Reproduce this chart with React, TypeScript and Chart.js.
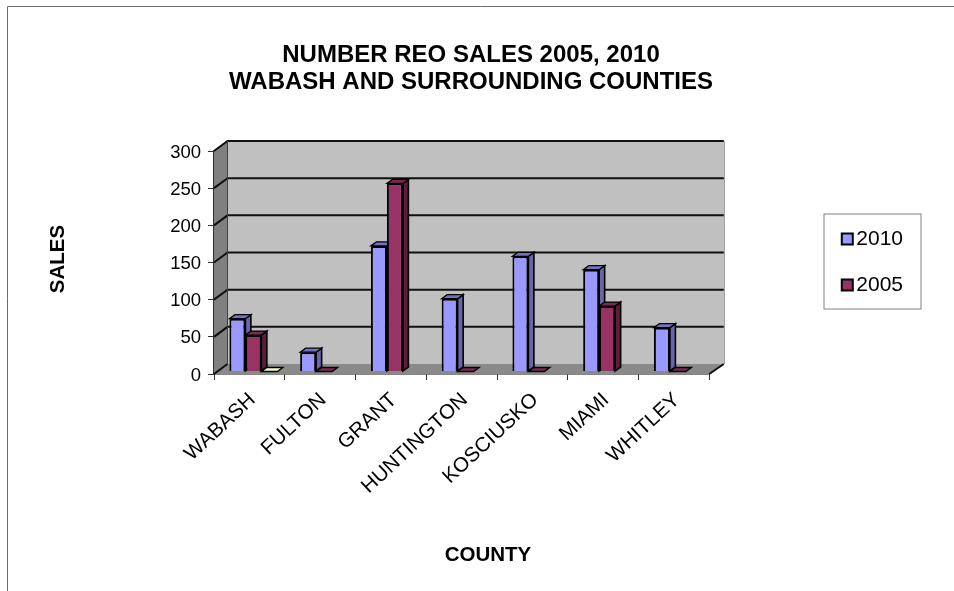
import React, { useEffect, useRef } from "react";
import { Chart, registerables } from "chart.js";

Chart.register(...registerables);

const categories = ["WABASH", "FULTON", "GRANT", "HUNTINGTON", "KOSCIUSKO", "MIAMI", "WHITLEY"];
const sales2010 = [71, 26, 169, 98, 155, 137, 59];
const sales2005 = [49, 0, 253, 0, 0, 88, 0];
const salesOther = [0, null, null, null, null, null, null];
const yTicks = [0, 50, 100, 150, 200, 250, 300];
const titleLines = ["NUMBER REO SALES 2005, 2010", "WABASH AND SURROUNDING COUNTIES"];
const xTitle = "COUNTY";
const yTitle = "SALES";

const FONT = "'Liberation Sans', Arial, sans-serif";
const faces = [
  { side: "#6666a8", top: "#7272bd" },
  { side: "#5a1e3c", top: "#7a2a52" },
  { side: "#c9c9a0", top: "#ffffcc" },
];

const BAR_DX = 4;
const BAR_DY = -2.5;
const DEPTH_X = 5.5;
const DEPTH_Y = -4;

function poly(ctx: CanvasRenderingContext2D, pts: number[][], fill: string, stroke?: string, lw = 1) {
  ctx.beginPath();
  pts.forEach((p, i) => (i ? ctx.lineTo(p[0], p[1]) : ctx.moveTo(p[0], p[1])));
  ctx.closePath();
  ctx.fillStyle = fill;
  ctx.fill();
  if (stroke) {
    ctx.strokeStyle = stroke;
    ctx.lineWidth = lw;
    ctx.stroke();
  }
}

const scene3d = {
  id: "scene3d",
  beforeDatasetsDraw(chart: any) {
    const ctx: CanvasRenderingContext2D = chart.ctx;
    const { left, right } = chart.chartArea;
    const y = chart.scales.y;
    const y0 = y.getPixelForValue(0);
    const yTop = y.getPixelForValue(300);
    const dl = 13.5, dr = 14.5, dy = -10;
    ctx.save();
    poly(ctx, [[left + dl, yTop + dy], [right + dr, yTop + dy], [right + dr, y0 + dy], [left + dl, y0 + dy]], "#c0c0c0");
    poly(ctx, [[left, yTop], [left + dl, yTop + dy], [left + dl, y0 + dy], [left, y0]], "#808080");
    poly(ctx, [[left, y0], [left + dl, y0 + dy], [right + dr, y0 + dy], [right, y0]], "#8a8a8a");
    ctx.strokeStyle = "#8c8c8c";
    ctx.lineWidth = 1;
    ctx.beginPath();
    ctx.moveTo(right + dr + 0.5, yTop + dy);
    ctx.lineTo(right + dr + 0.5, y0 + dy);
    ctx.stroke();
    ctx.strokeStyle = "#101010";
    ctx.lineWidth = 2;
    yTicks.forEach((v) => {
      const p = y.getPixelForValue(v);
      ctx.beginPath();
      ctx.moveTo(left, p);
      ctx.lineTo(left + dl, p + dy);
      if (v > 0) ctx.lineTo(right + dr, p + dy);
      ctx.stroke();
    });
    ctx.beginPath();
    ctx.moveTo(right, y0);
    ctx.lineTo(right + dr, y0 + dy);
    ctx.stroke();
    ctx.lineWidth = 1;
    ctx.strokeStyle = "#404040";
    ctx.beginPath();
    ctx.moveTo(left + dl, yTop + dy);
    ctx.lineTo(left + dl, y0 + dy);
    ctx.stroke();

    // bar sides and tops, in series order, under all bar fronts
    ctx.translate(BAR_DX, BAR_DY);
    chart.data.datasets.forEach((ds: any, di: number) => {
      const meta = chart.getDatasetMeta(di);
      meta.data.forEach((el: any, i: number) => {
        if (ds.data[i] === null) return;
        const x0 = el.x - el.width / 2;
        const x1 = el.x + el.width / 2;
        const t = el.y;
        const b = el.base;
        if (b - t > 0.5) {
          poly(ctx, [[x1, t], [x1 + DEPTH_X, t + DEPTH_Y], [x1 + DEPTH_X, b + DEPTH_Y], [x1, b]], faces[di].side, "#000", 1.6);
        }
        poly(ctx, [[x0, t], [x0 + DEPTH_X, t + DEPTH_Y], [x1 + DEPTH_X, t + DEPTH_Y], [x1, t]], faces[di].top, "#000", 1.3);
      });
    });
    ctx.restore();
  },
  beforeDatasetDraw(chart: any) {
    chart.ctx.save();
    chart.ctx.translate(BAR_DX, BAR_DY);
  },
  afterDatasetDraw(chart: any) {
    chart.ctx.restore();
  },
  afterDraw(chart: any) {
    const ctx: CanvasRenderingContext2D = chart.ctx;
    ctx.save();
    ctx.strokeStyle = "#6e6e6e";
    ctx.lineWidth = 1;
    ctx.beginPath();
    ctx.moveTo(7.5, 591);
    ctx.lineTo(7.5, 6.5);
    ctx.lineTo(954, 6.5);
    ctx.stroke();
    ctx.strokeStyle = "#808080";
    ctx.strokeRect(824, 214, 97, 95);
    // legend swatches sit closer to their text than the native box allows
    chart.legend.legendHitBoxes.forEach((hb: any, i: number) => {
      const sx = hb.left + 0.5;
      const sy = hb.top + hb.height / 2 - 6;
      ctx.fillStyle = chart.data.datasets[i].backgroundColor;
      ctx.strokeStyle = "#000";
      ctx.lineWidth = 2;
      ctx.fillRect(sx, sy, 11, 11);
      ctx.strokeRect(sx, sy, 11, 11);
    });
    ctx.fillStyle = "#000";
    ctx.font = `bold 20.5px ${FONT}`;
    ctx.textAlign = "center";
    ctx.textBaseline = "middle";
    ctx.fillText(xTitle, 488, 555);
    ctx.translate(58, 259);
    ctx.rotate(-Math.PI / 2);
    ctx.fillText(yTitle, 0, 0);
    ctx.restore();
  },
};

export default function App() {
  const ref = useRef<HTMLCanvasElement>(null);
  useEffect(() => {
    const chart = new Chart(ref.current as HTMLCanvasElement, {
      type: "bar",
      plugins: [scene3d as any],
      data: {
        labels: categories,
        datasets: [
          { label: "2010", data: sales2010, backgroundColor: "#9999ff", borderColor: "#000", borderWidth: 2, clip: false as any },
          { label: "2005", data: sales2005, backgroundColor: "#993366", borderColor: "#000", borderWidth: 2, clip: false as any },
          { label: "", data: salesOther as any, backgroundColor: "#ffffcc", borderColor: "#000", borderWidth: 1, clip: false as any },
        ],
      },
      options: {
        responsive: false,
        animation: false,
        devicePixelRatio: 1,
        layout: { padding: { top: 28, right: 41, left: 29, bottom: 94 } },
        datasets: { bar: { categoryPercentage: 0.678, barPercentage: 1 } },
        plugins: {
          tooltip: { enabled: false },
          title: {
            display: true,
            text: titleLines,
            color: "#000",
            font: { family: FONT, size: 24, weight: "bold", lineHeight: 1.125 },
            padding: { top: 14, bottom: 55 },
          },
          legend: {
            position: "right",
            labels: {
              generateLabels: (c: any) =>
                (Chart.defaults.plugins.legend.labels.generateLabels as any)(c)
                  .filter((item: any) => item.text !== "")
                  .map((item: any) => ({ ...item, fillStyle: "rgba(0,0,0,0)", strokeStyle: "rgba(0,0,0,0)", lineWidth: 0 })),
              color: "#000",
              font: { family: FONT, size: 21 },
              boxWidth: 4.5,
              boxHeight: 4.5,
              padding: 25,
            },
          },
        },
        scales: {
          x: {
            offset: true,
            grid: { display: true, drawOnChartArea: false, drawTicks: true, tickLength: 6, color: "#303030", offset: true },
            border: { display: true, color: "#101010", width: 1.5 },
            ticks: { color: "#000", font: { family: FONT, size: 20.5 }, minRotation: 43, maxRotation: 43, padding: 8, labelOffset: 3, autoSkip: false },
            afterFit: (s: any) => { s.height = 123; },
          },
          y: {
            min: 0,
            max: 300,
            afterBuildTicks: (s: any) => { s.ticks = yTicks.map((value) => ({ value })); },
            grid: { display: true, drawOnChartArea: false, drawTicks: true, tickLength: 6, color: "#303030" },
            border: { display: true, color: "#303030", width: 1.5 },
            ticks: { color: "#000", font: { family: FONT, size: 18.5 }, padding: 7, labelOffset: 1.5 },
            afterFit: (s: any) => { s.width = 185; },
          },
          spacer: {
            position: "right",
            display: true,
            grid: { display: false },
            border: { display: false },
            ticks: { display: false },
            afterFit: (s: any) => { s.width = 107; },
          },
        },
      } as any,
    });
    return () => chart.destroy();
  }, []);
  return (
    <div style={{ position: "absolute", left: 0, top: 0, width: 954, height: 591, background: "#fff" }}>
      <canvas ref={ref} width={954} height={591} style={{ display: "block" }} />
    </div>
  );
}
